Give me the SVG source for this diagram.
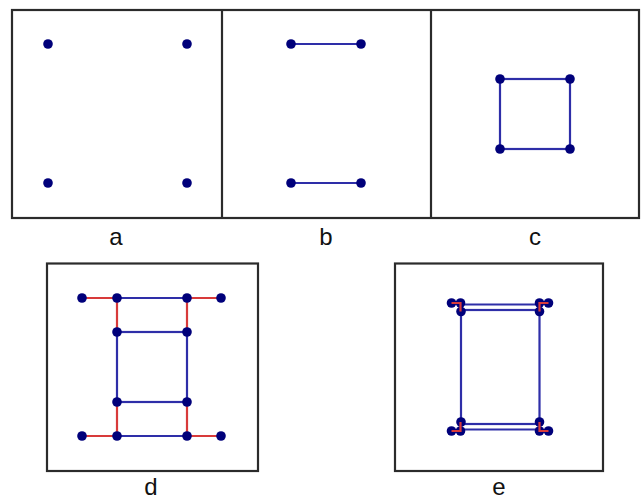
<svg xmlns="http://www.w3.org/2000/svg" width="642" height="501" viewBox="0 0 642 501">
<style>
.frame{fill:none;stroke:#2b2b2b;stroke-width:2.2}
.b{stroke:#2e2ea8;stroke-width:2.2;fill:none}
.r{stroke:#d83a3a;stroke-width:2.2;fill:none}
.dot{fill:#00007a}
.lbl{font-family:"Liberation Sans",Arial,sans-serif;font-size:24px;fill:#111;text-anchor:middle}
</style>
<rect width="642" height="501" fill="#fff"/>
<g id="frames">
<rect class="frame" x="12" y="10" width="627" height="208"/>
<line class="frame" x1="222" y1="10" x2="222" y2="218"/>
<line class="frame" x1="431" y1="10" x2="431" y2="218"/>
<rect class="frame" x="47" y="263.5" width="211" height="207.5"/>
<rect class="frame" x="395" y="263.5" width="208" height="207.5"/>
</g>
<g id="connectors">
<line class="b" x1="291" y1="44" x2="361" y2="44"/>
<line class="b" x1="291" y1="183" x2="361" y2="183"/>
<rect class="b" x="500" y="79" width="70" height="70"/>
<line class="r" x1="82" y1="298" x2="117" y2="298"/>
<line class="r" x1="187" y1="298" x2="221" y2="298"/>
<line class="r" x1="117" y1="298" x2="117" y2="332"/>
<line class="r" x1="187" y1="298" x2="187" y2="332"/>
<line class="r" x1="117" y1="402" x2="117" y2="436"/>
<line class="r" x1="187" y1="402" x2="187" y2="436"/>
<line class="r" x1="82" y1="436" x2="117" y2="436"/>
<line class="r" x1="187" y1="436" x2="221" y2="436"/>
<line class="b" x1="117" y1="298" x2="187" y2="298"/>
<line class="b" x1="117" y1="436" x2="187" y2="436"/>
<rect class="b" x="117" y="332" width="70" height="70"/>
<line class="b" x1="460.5" y1="304.5" x2="539.5" y2="304.5"/>
<line class="b" x1="460.5" y1="429.5" x2="539.5" y2="429.5"/>
<rect class="b" x="461" y="310" width="78.5" height="114"/>
</g>
<g id="panel-a">
<circle class="dot" cx="48" cy="44" r="4.8"/>
<circle class="dot" cx="187" cy="44" r="4.8"/>
<circle class="dot" cx="48" cy="183" r="4.8"/>
<circle class="dot" cx="187" cy="183" r="4.8"/>
<text class="lbl" x="116" y="245">a</text>
</g>
<g id="panel-b">
<circle class="dot" cx="291" cy="44" r="4.8"/>
<circle class="dot" cx="361" cy="44" r="4.8"/>
<circle class="dot" cx="291" cy="183" r="4.8"/>
<circle class="dot" cx="361" cy="183" r="4.8"/>
<text class="lbl" x="326" y="245">b</text>
</g>
<g id="panel-c">
<circle class="dot" cx="500" cy="79" r="4.8"/>
<circle class="dot" cx="570" cy="79" r="4.8"/>
<circle class="dot" cx="500" cy="149" r="4.8"/>
<circle class="dot" cx="570" cy="149" r="4.8"/>
<text class="lbl" x="535" y="245">c</text>
</g>
<g id="panel-d">
<circle class="dot" cx="82" cy="298" r="4.8"/>
<circle class="dot" cx="117" cy="298" r="4.8"/>
<circle class="dot" cx="187" cy="298" r="4.8"/>
<circle class="dot" cx="221" cy="298" r="4.8"/>
<circle class="dot" cx="117" cy="332" r="4.8"/>
<circle class="dot" cx="187" cy="332" r="4.8"/>
<circle class="dot" cx="117" cy="402" r="4.8"/>
<circle class="dot" cx="187" cy="402" r="4.8"/>
<circle class="dot" cx="82" cy="436" r="4.8"/>
<circle class="dot" cx="117" cy="436" r="4.8"/>
<circle class="dot" cx="187" cy="436" r="4.8"/>
<circle class="dot" cx="221" cy="436" r="4.8"/>
<text class="lbl" x="151" y="495">d</text>
</g>
<g id="panel-e">
<circle class="dot" cx="451.5" cy="303" r="4.8"/>
<circle class="dot" cx="460.5" cy="303" r="4.8"/>
<circle class="dot" cx="461" cy="311.5" r="4.8"/>
<circle class="dot" cx="539.5" cy="303" r="4.8"/>
<circle class="dot" cx="548.5" cy="303" r="4.8"/>
<circle class="dot" cx="539.5" cy="311.5" r="4.8"/>
<circle class="dot" cx="461" cy="422" r="4.8"/>
<circle class="dot" cx="451.5" cy="431" r="4.8"/>
<circle class="dot" cx="460.5" cy="431" r="4.8"/>
<circle class="dot" cx="539.5" cy="422" r="4.8"/>
<circle class="dot" cx="539.5" cy="431" r="4.8"/>
<circle class="dot" cx="548.5" cy="431" r="4.8"/>
<path class="r" d="M451.5 303H460.5V311.5M548.5 303H539.5V311.5M451.5 431H460.5V422M548.5 431H539.5V422" stroke-width="1.2"/>
<text class="lbl" x="499" y="495">e</text>
</g>
</svg>
